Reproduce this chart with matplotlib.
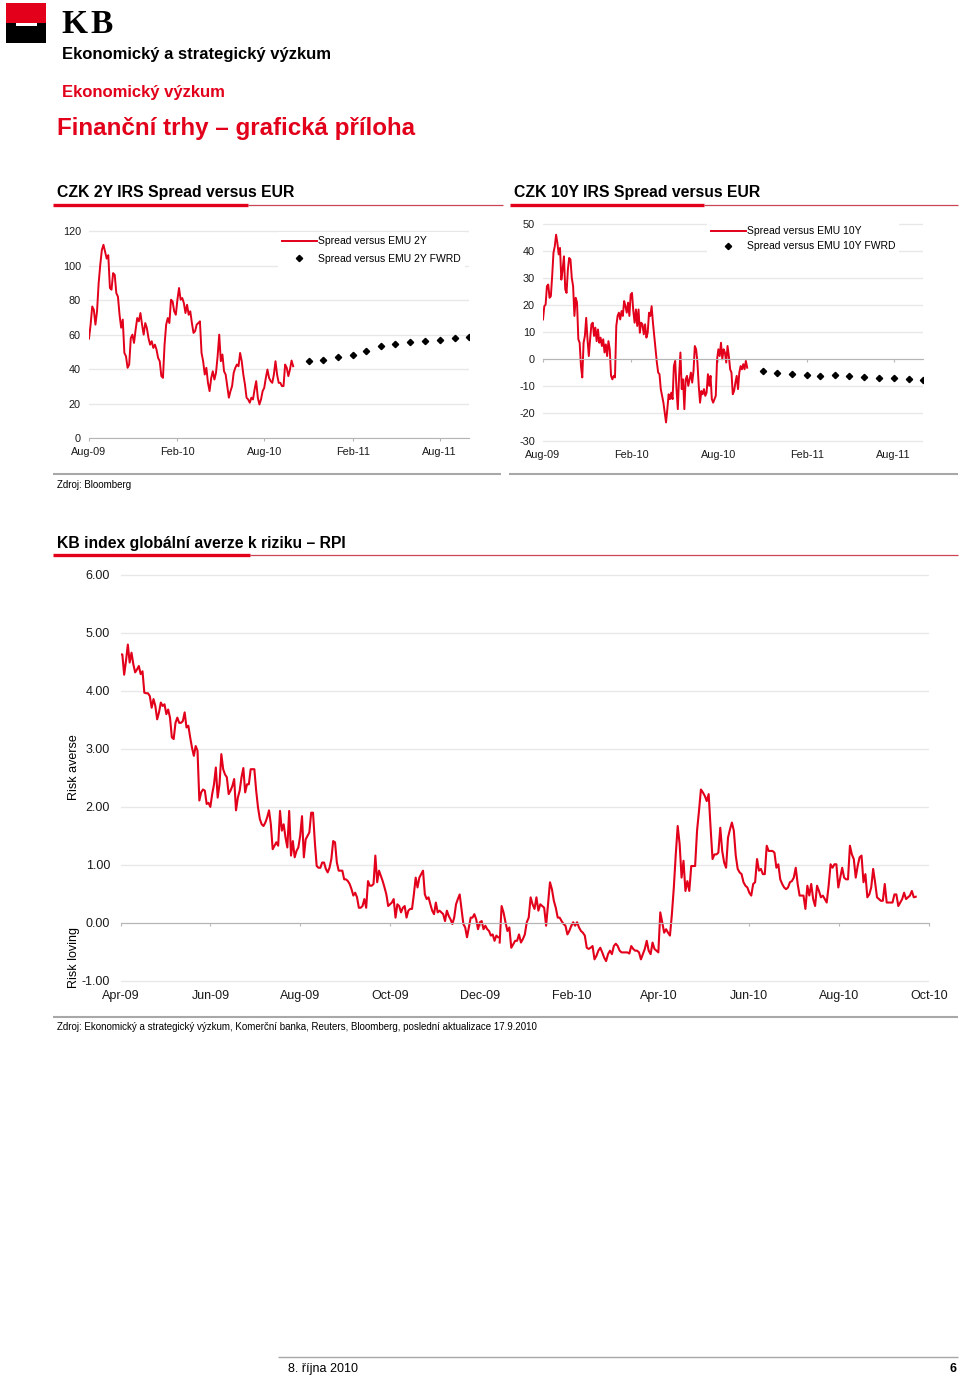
import matplotlib.pyplot as plt
import matplotlib.dates as mdates
from matplotlib.patches import Rectangle
from matplotlib.lines import Line2D
from matplotlib.ticker import FormatStrFormatter
import pandas as pd

plt.rcParams['font.family'] = ['Liberation Sans', 'DejaVu Sans']
plt.rcParams['axes.unicode_minus'] = False

RED = '#e2001a'
W, H = 960, 1378

# --- data ---
spread_2y = [57.7, 65.8, 76.3, 74.4, 65.8, 73.5, 89.8, 100.4, 109, 112, 108, 104, 106, 87, 86, 95.6,
             94.6, 84, 82, 71.5, 64, 68.7, 49.4, 47.5, 40.8, 42.7, 58, 60, 55.2, 62.9, 69.6, 67.7,
             72.5, 65.8, 60, 66.7, 63.8, 58, 54.2, 56.2, 52.3, 54.2, 51.3, 46.5, 44.6, 36, 35, 54.2,
             65.8, 69.6, 66.7, 80.2, 79.2, 73.5, 71.5, 80.2, 87, 80.2, 81.2, 78.3, 72.5, 77.3, 71.5,
             73.5, 66.7, 61, 62, 65.8, 66.7, 67.7, 49.4, 44.6, 36.9, 40.8, 32.1, 27.3, 34.8, 38.8,
             34, 37.9, 47.5, 60, 44.6, 48.5, 38.8, 36.9, 30.2, 23.5, 27.3, 30.2, 37.9, 40.8, 42.7,
             41.7, 49.4, 44.6, 36.9, 31.2, 23.5, 22.5, 20.6, 23.5, 22.5, 28.3, 33.1, 23.5, 19.6,
             22.5, 27.3, 29.2, 35, 39.8, 35, 33.1, 32.1, 36.9, 44.6, 36.9, 32.1, 32.1, 30.2, 30.2,
             42.7, 40.8, 36, 39.8, 45, 41.7]

spread_10y = [14.7, 19.6, 20.2, 27, 27.6, 22.7, 23.3, 30.7, 39.3, 41.7, 46, 42.9, 38.7, 41.1, 29.4,
              33.1, 38, 25.8, 24.5, 33.1, 37.4, 36.8, 30, 27, 16, 22.7, 20.9, 7.4, 6.1, -2.5, -6.7,
              6.1, 8.6, 15.3, 7.4, 1.2, 7.4, 12.9, 13.5, 8.6, 11.7, 6.7, 11, 6.1, 8, 4.9, 7.4, 2.5,
              5.5, 1.2, 6.7, 3.7, -6.1, -7.4, -6.1, -6.7, 12.3, 16, 17.2, 14.7, 17.8, 16, 21.5,
              19.6, 17.2, 20.9, 16, 23.9, 24.5, 17.8, 13.5, 18.4, 12.3, 18.4, 9.8, 13.5, 12.9, 9.2,
              12.9, 8, 9.8, 17.2, 16, 19.6, 13.5, 8.6, 3.7, -1.2, -4.9, -5.5, -11, -13.5, -16,
              -19.6, -23.3, -18.4, -12.9, -14.7, -12.3, -14.7, -2.5, -0.6, -11, -18.4, -6.1, 2.5,
              -11, -7.4, -18.4, -7.4, -6.1, -9.8, -7.4, -4.9, -8.6, -4.3, 4.9, 3.7, -1.2, -9.8,
              -16, -11.7, -12.9, -11, -13.5, -12.3, -5.5, -9.8, -6.1, -14.7, -16, -14.7, -13.5, 0,
              3.7, 1.2, 6.1, 0, 3.7, 2.5, -1.2, 4.9, 1.2, -3.7, -4.9, -12.9, -11.7, -8.6, -6.1,
              -11, -4.9, -2.5, -3.7, -1.8, -3.7, -0.6, -3.1]

spot_start, spot_end = '2009-08-01', '2010-09-30'
fwd_dates = pd.date_range('2010-11-01', '2011-10-01', freq='MS')
fwd_2y = [44.5, 45.6, 47.2, 48.4, 50.5, 53.6, 54.5, 55.5, 56.3, 57.0, 57.8, 58.4]
fwd_10y = [-4.4, -5.1, -5.4, -5.7, -6.0, -5.9, -6.2, -6.4, -6.8, -7.0, -7.3, -7.8]

# RPI index, two stretches
rpi_2009 = [4.63, 4.63, 4.28, 4.52, 4.80, 4.49, 4.66, 4.46, 4.32, 4.37, 4.43, 4.29, 4.34, 3.97, 3.96,
            3.96, 3.91, 3.71, 3.86, 3.74, 3.51, 3.63, 3.80, 3.74, 3.77, 3.60, 3.68, 3.54, 3.20, 3.17,
            3.45, 3.54, 3.45, 3.45, 3.48, 3.63, 3.37, 3.40, 3.20, 3.02, 2.88, 3.05, 2.97, 2.11, 2.25,
            2.30, 2.28, 2.05, 2.07, 2.00, 2.22, 2.39, 2.68, 2.16, 2.39, 2.91, 2.65, 2.56, 2.51, 2.22,
            2.28, 2.36, 2.48, 1.94, 2.16, 2.28, 2.51, 2.67, 2.25, 2.39, 2.39, 2.65, 2.65, 2.65, 2.28,
            1.99, 1.79, 1.70, 1.67, 1.73, 1.82, 1.94, 1.70, 1.27, 1.33, 1.39, 1.33, 1.93, 1.59, 1.70,
            1.47, 1.30, 1.93, 1.16, 1.41, 1.13, 1.24, 1.30, 1.50, 1.84, 1.13, 1.44, 1.50, 1.56, 1.90,
            1.90, 1.39, 0.98, 0.95, 0.95, 1.04, 1.04, 0.93, 0.87, 0.95, 1.10, 1.41, 1.39, 1.04, 0.90,
            0.90, 0.90, 0.75, 0.75, 0.72, 0.67, 0.58, 0.47, 0.52, 0.44, 0.26, 0.26, 0.29, 0.41, 0.26,
            0.72, 0.64, 0.64, 0.67, 1.16, 0.70, 0.90, 0.81, 0.72, 0.61, 0.49, 0.29, 0.32, 0.35, 0.41,
            0.09, 0.32, 0.29, 0.18, 0.26, 0.29, 0.09, 0.21, 0.24, 0.24, 0.49, 0.78, 0.61, 0.78, 0.84,
            0.90, 0.49, 0.41, 0.44, 0.32, 0.21, 0.15, 0.35, 0.18, 0.21, 0.18, 0.15, 0.03, 0.21, 0.12,
            0.06, -0.02, 0.09, 0.32, 0.41, 0.49, 0.24, -0.02, -0.08, -0.25, -0.08, 0.09, 0.09, 0.15,
            0.06, -0.11, 0.01, 0.03, -0.11, -0.05, -0.11, -0.14, -0.22, -0.20, -0.31, -0.22, -0.25]
rpi_2010 = [-0.34, 0.29, 0.18, 0.01, -0.14, -0.08, -0.43, -0.37, -0.31, -0.31, -0.20, -0.34, -0.28,
            -0.20, 0.01, 0.09, 0.44, 0.32, 0.24, 0.44, 0.21, 0.32, 0.29, 0.26, -0.05, 0.32, 0.70,
            0.58, 0.38, 0.26, 0.09, 0.09, 0.03, -0.02, -0.05, -0.20, -0.14, -0.05, 0.01, -0.05, 0.01,
            -0.08, -0.14, -0.17, -0.22, -0.43, -0.45, -0.43, -0.40, -0.63, -0.57, -0.48, -0.43,
            -0.51, -0.60, -0.66, -0.54, -0.48, -0.54, -0.40, -0.36, -0.40, -0.48, -0.51, -0.51,
            -0.51, -0.51, -0.53, -0.40, -0.45, -0.48, -0.48, -0.51, -0.63, -0.54, -0.45, -0.31,
            -0.48, -0.54, -0.34, -0.45, -0.48, -0.51, 0.18, 0.01, -0.17, -0.11, -0.17, -0.22, 0.15,
            0.61, 1.18, 1.67, 1.36, 0.78, 1.07, 0.55, 0.72, 0.55, 0.98, 0.98, 0.98, 1.59, 1.93, 2.30,
            2.25, 2.19, 2.10, 2.22, 1.64, 1.10, 1.18, 1.18, 1.21, 1.64, 1.24, 1.04, 0.95, 1.47, 1.61,
            1.73, 1.59, 1.16, 0.93, 0.87, 0.84, 0.70, 0.64, 0.61, 0.52, 0.47, 0.67, 0.70, 1.10, 0.90,
            0.93, 0.84, 0.84, 1.33, 1.24, 1.24, 1.24, 1.21, 0.95, 1.01, 0.75, 0.67, 0.61, 0.58, 0.61,
            0.70, 0.72, 0.78, 0.95, 0.67, 0.47, 0.47, 0.47, 0.24, 0.64, 0.47, 0.67, 0.41, 0.29, 0.64,
            0.55, 0.44, 0.47, 0.41, 0.35, 0.64, 1.01, 0.95, 1.01, 1.01, 0.61, 0.78, 0.95, 0.78, 0.75,
            0.75, 1.33, 1.18, 1.10, 0.78, 0.98, 1.13, 1.16, 0.70, 0.84, 0.44, 0.49, 0.61, 0.93, 0.70,
            0.44, 0.41, 0.38, 0.38, 0.67, 0.35, 0.35, 0.35, 0.35, 0.49, 0.49, 0.29, 0.35, 0.41, 0.52,
            0.41, 0.44, 0.47, 0.55, 0.44, 0.45]

dates_2y = pd.date_range(spot_start, spot_end, periods=len(spread_2y))
dates_10y = pd.date_range(spot_start, spot_end, periods=len(spread_10y))
dates_rpi_2009 = pd.date_range('2009-04-01', '2009-12-13', periods=len(rpi_2009))
dates_rpi_2010 = pd.date_range('2009-12-14', '2010-09-22', periods=len(rpi_2010))


def fx(x):
    return x / W


def fy(y):
    return 1 - y / H


def add_axes_px(left, top, right, bottom):
    return fig.add_axes([fx(left), fy(bottom), (right - left) / W, (bottom - top) / H])


def hline(x0, x1, y, color, lw):
    fig.add_artist(Line2D([fx(x0), fx(x1)], [fy(y), fy(y)], transform=fig.transFigure,
                          color=color, lw=lw, solid_capstyle='butt'))


def style_axes(ax, fs, ypad, xpad):
    for s in ['top', 'right', 'left']:
        ax.spines[s].set_visible(False)
    ax.spines['bottom'].set_color('#b5b5b5')
    ax.spines['bottom'].set_position(('data', 0))
    ax.grid(axis='y', color='#e8e8e8', lw=1)
    ax.set_axisbelow(True)
    ax.tick_params(axis='y', length=0, labelsize=fs, pad=ypad, labelcolor='#1a1a1a')
    ax.tick_params(axis='x', direction='out', length=2.5, color='#b5b5b5', labelsize=fs,
                   pad=xpad, labelcolor='#1a1a1a')


def section_title(text, x, y, x_end, thick_end):
    fig.text(fx(x + 4), fy(y + 2), text, fontsize=11.3, fontweight='bold', va='center', ha='left')
    hline(x, thick_end, y + 14, RED, 2.4)
    hline(thick_end, x_end, y + 14, '#cc4455', 0.9)


fig = plt.figure(figsize=(9.6, 13.78), dpi=100)

# --- header ---
fig.add_artist(Rectangle((fx(6), fy(23)), 40 / W, 20 / H, transform=fig.transFigure,
                         color=RED, lw=0))
fig.add_artist(Rectangle((fx(6), fy(43)), 40 / W, 20 / H, transform=fig.transFigure,
                         color='black', lw=0))
fig.add_artist(Rectangle((fx(16), fy(25.5)), 21 / W, 2.2 / H, transform=fig.transFigure,
                         color='white', lw=0))
fig.text(fx(61), fy(33), 'K', fontsize=24, fontweight='bold', family='Liberation Serif',
         va='baseline')
fig.text(fx(90), fy(33), 'B', fontsize=24, fontweight='bold', family='Liberation Serif',
         va='baseline')
fig.text(fx(62), fy(55), 'Ekonomický a strategický výzkum', fontsize=12, fontweight='bold',
         va='center')
fig.text(fx(62), fy(93), 'Ekonomický výzkum', fontsize=12, fontweight='bold', color=RED,
         va='center')
fig.text(fx(57), fy(129), 'Finanční trhy – grafická příloha', fontsize=17.4,
         fontweight='bold', color=RED, va='center')

# --- CZK 2Y ---
section_title('CZK 2Y IRS Spread versus EUR', 53, 191, 503, 248)
ax1 = add_axes_px(89, 227.5, 469, 438.3)
ax1.plot(dates_2y, spread_2y, color=RED, lw=1.4, label='Spread versus EMU 2Y')
ax1.plot(fwd_dates, fwd_2y, 'D', color='black', ms=3.2, ls='none',
         label='Spread versus EMU 2Y FWRD')
ax1.set_ylim(0, 122)
ax1.set_yticks(range(0, 121, 20))
ax1.set_xlim(pd.Timestamp('2009-08-01'), pd.Timestamp('2011-10-01'))
ax1.xaxis.set_major_locator(mdates.MonthLocator(bymonth=[2, 8]))
ax1.xaxis.set_major_formatter(mdates.DateFormatter('%b-%y'))
style_axes(ax1, 7.8, 5.8, 4)
ax1.legend(loc='upper left', bbox_to_anchor=(fx(278), fy(232)), bbox_transform=fig.transFigure,
           frameon=True, fancybox=False, edgecolor='none', facecolor='white', framealpha=1,
           fontsize=7.5, handlelength=3.3, handletextpad=0.1, labelspacing=0.75,
           borderpad=0.4, borderaxespad=0)

# --- CZK 10Y ---
section_title('CZK 10Y IRS Spread versus EUR', 510, 191, 958, 704)
ax2 = add_axes_px(543, 221.1, 923, 443.3)
ax2.plot(dates_10y, spread_10y, color=RED, lw=1.4, label='Spread versus EMU 10Y')
ax2.plot(fwd_dates, fwd_10y, 'D', color='black', ms=3.2, ls='none',
         label='Spread versus EMU 10Y FWRD')
ax2.set_ylim(-31, 51)
ax2.set_yticks(range(-30, 51, 10))
ax2.set_xlim(pd.Timestamp('2009-08-01'), pd.Timestamp('2011-10-01'))
ax2.xaxis.set_major_locator(mdates.MonthLocator(bymonth=[2, 8]))
ax2.xaxis.set_major_formatter(mdates.DateFormatter('%b-%y'))
style_axes(ax2, 7.8, 5.8, 63)
ax2.legend(loc='upper left', bbox_to_anchor=(fx(707), fy(222)), bbox_transform=fig.transFigure,
           frameon=True, fancybox=False, edgecolor='none', facecolor='white', framealpha=1,
           fontsize=7.5, handlelength=3.3, handletextpad=0.1, labelspacing=0.5,
           borderpad=0.4, borderaxespad=0)

hline(53, 501, 474, '#a8a8a8', 1.5)
hline(509, 958, 474, '#a8a8a8', 1.5)
fig.text(fx(57), fy(485), 'Zdroj: Bloomberg', fontsize=7, va='center')

# --- RPI ---
section_title('KB index globální averze k riziku – RPI', 53, 541, 958, 250)
ax3 = add_axes_px(120.5, 572.1, 929, 983.7)
ax3.plot(dates_rpi_2009, rpi_2009, color=RED, lw=1.5)
ax3.plot(dates_rpi_2010, rpi_2010, color=RED, lw=1.5)
ax3.set_ylim(-1.05, 6.05)
ax3.set_yticks(range(-1, 7))
ax3.yaxis.set_major_formatter(FormatStrFormatter('%.2f'))
ax3.set_xlim(pd.Timestamp('2009-04-01'), pd.Timestamp('2010-10-01'))
ax3.xaxis.set_major_locator(mdates.MonthLocator(bymonth=[2, 4, 6, 8, 10, 12]))
ax3.xaxis.set_major_formatter(mdates.DateFormatter('%b-%y'))
style_axes(ax3, 9, 7.5, 46)
fig.text(fx(74), fy(767), 'Risk averse', fontsize=9, rotation=90, ha='center', va='center')
fig.text(fx(74), fy(958), 'Risk loving', fontsize=9, rotation=90, ha='center', va='center')

hline(53, 958, 1017, '#a8a8a8', 1.5)
fig.text(fx(57), fy(1027), 'Zdroj: Ekonomický a strategický výzkum, Komerční banka, Reuters, '
         'Bloomberg, poslední aktualizace 17.9.2010', fontsize=7, va='center')

# --- footer ---
hline(278, 958, 1357, '#a8a8a8', 1.0)
fig.text(fx(288), fy(1369), '8. října 2010', fontsize=9, va='center')
fig.text(fx(956), fy(1369), '6', fontsize=9, fontweight='bold', va='center', ha='right')

fig.savefig('out.png', dpi=100)
